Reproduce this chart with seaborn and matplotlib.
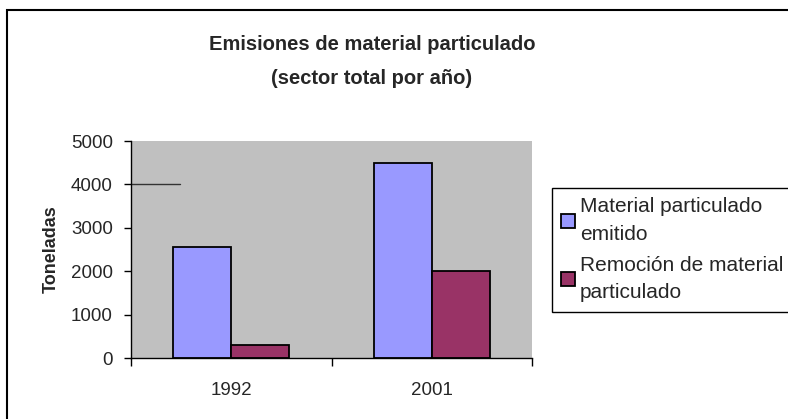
import pandas as pd
import matplotlib.pyplot as plt
import seaborn as sns
from matplotlib.patches import Rectangle

# datos
anios = ['1992', '2001']
emitido = [2550, 4500]
remocion = [300, 2000]
series = ['Material particulado\nemitido', 'Remoción de material\nparticulado']
yticks = [0, 1000, 2000, 3000, 4000, 5000]

df = pd.DataFrame({
    'anio': anios * 2,
    'serie': [series[0]] * len(anios) + [series[1]] * len(anios),
    'toneladas': emitido + remocion,
})

sns.set_style('white')
plt.rcParams['font.family'] = ['Liberation Sans', 'DejaVu Sans']

fig = plt.figure(figsize=(7.88, 4.19), dpi=100)
ax = fig.add_axes([131 / 788, 1 - 358 / 419, 401 / 788, 217 / 419])
ax.set_facecolor('#C0C0C0')

sns.barplot(data=df, x='anio', y='toneladas', hue='serie', order=anios,
            hue_order=series, palette=['#9999FF', '#993366'], saturation=1,
            width=0.58, edgecolor='black', linewidth=1.3, ax=ax, legend=True)

ax.set_xlim(-0.5, 1.5)
ax.set_ylim(0, 5000)
ax.set_yticks(yticks)
ax.set_yticklabels([str(v) for v in yticks], fontsize=13.5)
ax.set_xticks([-0.5, 0.5, 1.5], minor=False)
ax.set_xticklabels(['', '', ''])
ax.set_xticks([0, 1], minor=True)
ax.set_xticklabels(anios, minor=True, fontsize=13.5)
ax.tick_params(axis='x', which='major', length=6, width=1, color='black', direction='out', bottom=True)
ax.tick_params(axis='x', which='minor', length=0, pad=17)
ax.tick_params(axis='y', length=5, width=1, color='black', direction='out', left=True, pad=8)
ax.set_xlabel('')
ax.set_ylabel('Toneladas', fontsize=13, fontweight='bold', labelpad=8)

for s in ['top', 'right']:
    ax.spines[s].set_visible(False)
for s in ['left', 'bottom']:
    ax.spines[s].set_color('black')
    ax.spines[s].set_linewidth(1)

# línea suelta que aparece en el original
ax.plot([0, 49 / 401], [4000, 4000], color='#333333', lw=1,
        transform=ax.get_yaxis_transform(), clip_on=False)

leg = ax.legend(loc='upper left', bbox_to_anchor=(552 / 788, 1 - 188 / 419),
                bbox_transform=fig.transFigure, fontsize=15, frameon=True,
                fancybox=False, edgecolor='black', framealpha=1,
                handlelength=0.65, handleheight=0.65, handletextpad=0.25,
                labelspacing=0.6, borderpad=0.45, borderaxespad=0)
leg.get_frame().set_linewidth(1)
for t in leg.get_texts():
    t.set_linespacing(1.55)
for h in leg.legend_handles:
    h.set_edgecolor('black')
    h.set_linewidth(1.3)

fig.text(0.472, 1 - 44 / 419, 'Emisiones de material particulado',
         ha='center', va='center', fontsize=14.5, fontweight='bold')
fig.text(0.472, 1 - 78 / 419, '(sector total por año)',
         ha='center', va='center', fontsize=14.5, fontweight='bold')

# marco del gráfico
fig.patches.append(Rectangle((7 / 788, -0.1), 1.2, 1 - 10 / 419 + 0.1,
                             transform=fig.transFigure, fill=False,
                             edgecolor='black', linewidth=1.5, clip_on=False))

fig.savefig('out.png', dpi=100)
